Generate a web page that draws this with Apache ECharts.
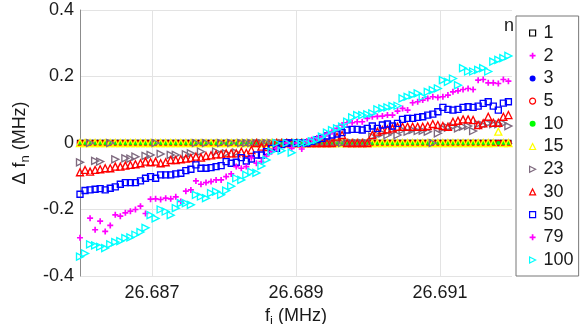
<!DOCTYPE html>
<html><head><meta charset="utf-8">
<script src="https://cdn.jsdelivr.net/npm/echarts@6/dist/echarts.min.js"></script>
<style>html,body{margin:0;padding:0;background:#fff}#c{width:585px;height:324px}</style>
</head><body><div id="c"></div>
<script>
// Frequency sweep f_i (MHz)
const freq = [
26.68600,26.68607,26.68614,26.68621,26.68628,26.68635,26.68642,26.68649,26.68656,26.68663,
26.68670,26.68677,26.68684,26.68691,26.68698,26.68705,26.68712,26.68719,26.68726,26.68733,
26.68740,26.68747,26.68754,26.68761,26.68768,26.68775,26.68782,26.68789,26.68796,26.68803,
26.68810,26.68817,26.68824,26.68831,26.68838,26.68845,26.68852,26.68859,26.68866,26.68873,
26.68880,26.68887,26.68894,26.68901,26.68908,26.68915,26.68922,26.68929,26.68936,26.68943,
26.68950,26.68957,26.68964,26.68971,26.68978,26.68985,26.68992,26.68999,26.69006,26.69013,
26.69020,26.69027,26.69034,26.69041,26.69048,26.69055,26.69062,26.69069,26.69076,26.69083,
26.69090,26.69097,26.69104,26.69111,26.69118,26.69125,26.69132,26.69139,26.69146,26.69153,
26.69160,26.69167,26.69174,26.69181,26.69188,26.69195];

const xTickValues = [26.687, 26.689, 26.691];
const seriesNames = ['1','2','3','5','10','15','23','30','50','79','100'];

// n = 1, 2, 3, 5, 10 : zero shift
const zeroLine = [
0,0,0,0,0,0,0,0,0,0, 0,0,0,0,0,0,0,0,0,0,
0,0,0,0,0,0,0,0,0,0, 0,0,0,0,0,0,0,0,0,0,
0,0,0,0,0,0,0,0,0,0, 0,0,0,0,0,0,0,0,0,0,
0,0,0,0,0,0,0,0,0,0, 0,0,0,0,0,0,0,0,0,0,
0,0,0,0,0,0];
const n15 = [
0,0,0,0,0,0,0,0,0,0, 0,0,0,0,0,0,0,0,0,0,
0,0,0,0,0,0,0,0,0,0, 0,0,0,0,0,0,0,0,0,0,
0,0,0,0,0,0,0,0,0,0, 0,0,0,0,0,0,0,0,0,0,
0,0,0,0,0,0,0,0,0,0, 0,0,0,0,0,0,0,0,0,0,
0,0,0,0.034,0,0];
const n23 = [
-0.058,null,0,-0.054,-0.056,null,0,-0.049,null,-0.046,
-0.047,-0.041,null,-0.039,-0.036,0,-0.033,null,-0.036,-0.036,
null,-0.034,-0.031,0,-0.026,0,null,-0.026,0,-0.031,
0,-0.029,0,0,0,0,0,0,0,0,
0,0,0,0,0,0,0,0,0,0,
0,0,0,0,0,0,0,0,0.019,0.024,
0.029,0.024,0.034,0.024,0.039,0.034,0.039,0.036,0.037,0.034,
0,0.029,0.044,0.046,0.049,0.044,0.049,0.051,0.036,0.057,
0.054,0.059,0.057,0.057,0.059,0.051];
const n30 = [
-0.088,-0.081,-0.086,-0.081,-0.079,-0.076,-0.076,-0.071,-0.071,-0.068,
-0.066,-0.064,-0.061,-0.056,-0.058,-0.056,-0.061,-0.058,-0.051,-0.051,
-0.049,-0.047,-0.045,-0.041,-0.044,-0.039,-0.037,-0.034,-0.034,-0.031,
-0.031,-0.031,-0.026,-0.030,-0.021,0,-0.011,-0.012,-0.008,0,
0,0,0,0,0,0,0,0,0,0,
0,0.019,0.024,0,0,0,0,0,0.024,0.034,
0.039,0.041,0.044,0.049,0.049,0.049,0.049,0.049,0.049,0.051,
0.057,0.054,0.051,0.049,0.064,0.067,0.071,0.071,0.069,0.054,
0.059,0.079,0.061,0.061,0.079,0.084];
const n50 = [
-0.154,-0.143,-0.141,-0.139,-0.137,-0.141,-0.136,-0.132,-0.124,-0.119,
-0.119,-0.119,-0.114,-0.106,-0.101,-0.106,-0.096,-0.096,-0.096,-0.093,
-0.091,-0.083,-0.079,-0.066,-0.076,-0.076,-0.074,-0.071,-0.068,-0.056,
-0.061,-0.058,-0.044,-0.054,-0.048,-0.036,-0.036,-0.026,-0.016,-0.016,
-0.005,0,0,0,0,0,0.005,0.010,0.014,0.021,
0.024,0.027,0.031,0.039,0.041,0.041,0.039,0.044,0.051,0.044,
0.054,0.057,0.051,0.059,0.071,0.074,0.074,0.077,0.079,0.084,
0.087,0.094,0.107,0.101,0.099,0.101,0.107,0.109,0.107,0.111,
0.119,0.124,0.111,0.099,0.120,0.124];
const n79 = [
-0.285,null,-0.226,-0.261,-0.235,-0.266,-0.248,-0.216,-0.220,-0.210,
-0.205,-0.200,-0.190,-0.212,-0.169,-0.168,-0.170,-0.166,-0.168,-0.162,
-0.176,-0.145,-0.141,-0.114,-0.124,-0.119,-0.116,-0.111,-0.111,-0.101,
-0.093,-0.071,-0.076,-0.071,-0.044,-0.061,-0.056,-0.039,-0.026,-0.016,
null,0,-0.016,0,-0.018,0.005,0.010,0.015,0.019,0.027,
0.034,0.044,0.054,0.061,0.061,0.064,0.064,0.074,0.079,0.080,
0.081,0.084,0.084,0.096,0.104,0.099,0.121,0.124,0.129,0.134,
0.139,0.137,0.139,0.144,0.154,0.157,0.161,0.164,0.161,0.189,
0.191,0.181,0.181,0.179,0.191,0.186];
const n100 = [
-0.342,-0.332,-0.305,-0.308,-0.312,-0.316,-0.305,-0.298,-0.295,-0.286,
-0.284,-0.276,-0.268,-0.255,-0.217,-0.227,-0.200,-0.206,-0.217,-0.196,
-0.181,-0.181,-0.186,-0.156,-0.161,-0.166,-0.151,-0.146,-0.156,-0.143,
-0.130,-0.106,-0.111,-0.096,-0.087,-0.090,-0.069,-0.051,-0.026,0,
-0.023,0,-0.029,0,0,0,0.005,0.009,0.019,0.031,
0.039,0.044,0.049,0.064,0.077,0.084,0.084,0.086,0.089,0.101,
0.104,0.107,0.111,0.112,0.134,0.139,0.144,0.149,0.139,0.154,
0.159,0.164,0.189,0.184,0.194,0.174,0.225,0.215,0.215,0.220,
0.225,0.215,0.245,0.250,0.255,0.262];

const seriesValues = [zeroLine, zeroLine, zeroLine, zeroLine, zeroLine, n15, n23, n30, n50, n79, n100];

const PLUS = 'path://M3.6,0H6.4V3.6H10V6.4H6.4V10H3.6V6.4H0V3.6H3.6Z';
const RTRI = 'path://M0,0L10,5L0,10Z';
const styles = [
  {symbol:'rect', size:5, color:'#000000', hollow:true},
  {symbol:PLUS, size:6, color:'#ff00ff', hollow:false},
  {symbol:'circle', size:4, color:'#0000ff', hollow:false},
  {symbol:'circle', size:5, color:'#ff0000', hollow:true},
  {symbol:'circle', size:4, color:'#00ff00', hollow:false},
  {symbol:'triangle', size:7, color:'#ffff00', hollow:true},
  {symbol:RTRI, size:7, color:'#7f6a7f', hollow:true},
  {symbol:'triangle', size:7, color:'#ff0000', hollow:true},
  {symbol:'rect', size:6, color:'#0000ff', hollow:true},
  {symbol:PLUS, size:6, color:'#ff00ff', hollow:false},
  {symbol:RTRI, size:7, color:'#00ffff', hollow:true}
];

const FONT = 'Liberation Sans, Arial, sans-serif';
const TXT = '#1a1a1a';

const series = seriesNames.map((name, si) => {
  const st = styles[si];
  const vals = seriesValues[si];
  const data = [];
  freq.forEach((f, i) => { if (vals[i] !== null) data.push([f, vals[i]]); });
  return {
    name: name,
    type: 'scatter',
    data: data,
    symbol: st.symbol,
    symbolSize: st.size,
    itemStyle: st.hollow
      ? {color:'rgba(255,255,255,0)', borderColor: st.color, borderWidth: 1.35, opacity: 1}
      : {color: st.color, borderWidth: 0, opacity: 1},
    emphasis: {disabled: true},
    animation: false,
    z: 2 + si
  };
});

const legendData = seriesNames.map((name, si) => {
  const st = styles[si];
  return {
    name: name,
    icon: st.symbol,
    itemStyle: st.hollow
      ? {color:'#ffffff', borderColor: st.color, borderWidth: 1.2}
      : {color: st.color, borderWidth: 0}
  };
});

const chart = echarts.init(document.getElementById('c'), null, {renderer: 'canvas'});
chart.setOption({
  backgroundColor: '#ffffff',
  animation: false,
  textStyle: {fontFamily: FONT},
  title: {
    text: 'n', left: 499, top: 12,
    textStyle: {fontSize: 18, fontWeight: 'normal', color: TXT, fontFamily: FONT}
  },
  grid: {left: 80, top: 10, width: 432, height: 266, containLabel: false, outerBoundsMode: 'none'},
  legend: {
    orient: 'vertical', left: 516, top: 16,
    padding: [8, 5, 7, 13],
    itemWidth: 6, itemHeight: 6, itemGap: 4.7,
    selectedMode: false,
    backgroundColor: '#ffffff',
    borderColor: '#777777', borderWidth: 1, borderRadius: 0,
    textStyle: {fontSize: 18, lineHeight: 18, color: TXT, fontFamily: FONT, padding: [0, 0, 0, 3]},
    data: legendData
  },
  xAxis: {
    type: 'value', min: 26.686, max: 26.692,
    name: '{a|f}{s|i}{a| (MHz)}', nameLocation: 'middle', nameGap: 22,
    nameTextStyle: {fontSize: 18, color: TXT, fontFamily: FONT,
      rich: {a: {fontSize: 18, color: TXT, fontFamily: FONT},
             s: {fontSize: 13, color: TXT, fontFamily: FONT, padding: [11, 0, 0, 0]}}},
    axisLine: {show: true, lineStyle: {color: '#8c8c8c', width: 1}},
    axisTick: {show: false, customValues: xTickValues},
    axisLabel: {customValues: xTickValues, fontSize: 18, color: TXT, fontFamily: FONT, margin: 8,
      formatter: v => Number(v).toFixed(3)},
    splitLine: {show: true, lineStyle: {color: '#e3e3e3', width: 1}}
  },
  yAxis: {
    type: 'value', min: -0.4, max: 0.4, interval: 0.2,
    name: '{a|\u0394 f}{s|n}{a| (MHz)}', nameLocation: 'middle', nameGap: 43,
    nameTextStyle: {fontSize: 18, color: TXT, fontFamily: FONT,
      rich: {a: {fontSize: 18, color: TXT, fontFamily: FONT},
             s: {fontSize: 13, color: TXT, fontFamily: FONT, padding: [11, 0, 0, 0]}}},
    axisLine: {show: true, lineStyle: {color: '#8c8c8c', width: 1}},
    axisTick: {show: false},
    axisLabel: {fontSize: 18, color: TXT, fontFamily: FONT, margin: 6,
      formatter: v => { const r = Math.round(v * 10) / 10; return r === 0 ? '0' : String(r); }},
    splitLine: {show: true, lineStyle: {color: '#e3e3e3', width: 1}}
  },
  series: series
});
</script>
</body></html>
